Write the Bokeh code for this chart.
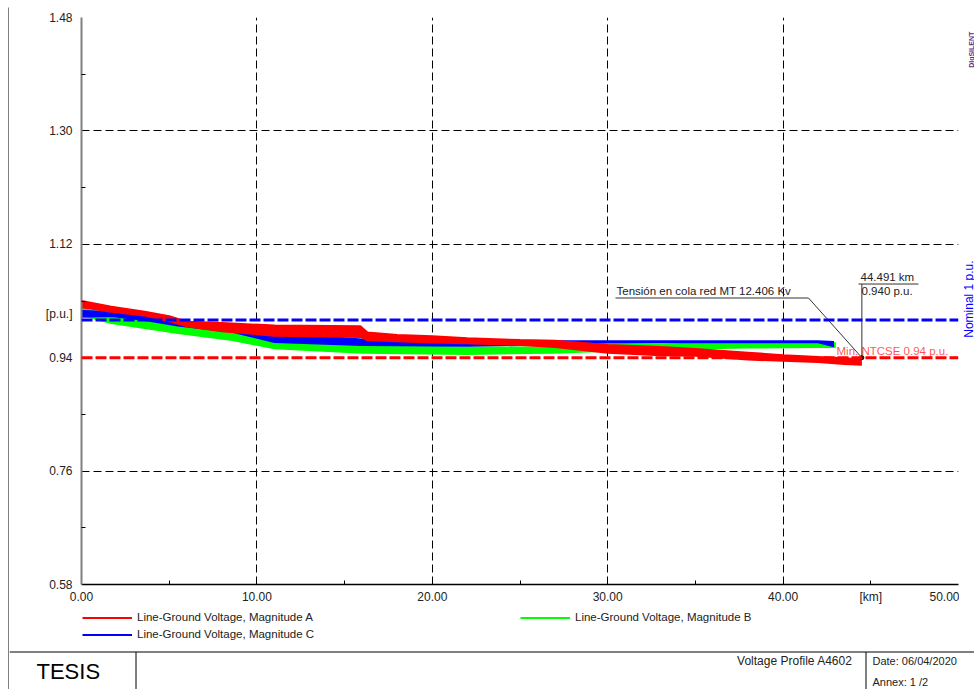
import math
from bokeh.plotting import figure
from bokeh.layouts import row, column
from bokeh.models import (Range1d, FixedTicker, NumeralTickFormatter, Span, Label,
                          Legend, LegendItem)
from bokeh.core.properties import value
from bokeh.embed import file_html
from bokeh.resources import INLINE

# ---------------- data ----------------
# Phase A (red) band envelope along the feeder
A_KM = [0, 1.7, 3.6, 5.0, 6.0, 8.0, 11.0, 15.9, 16.3, 18.0, 20.0, 22.0, 25.0, 27.0,
        30.0, 33.0, 35.0, 38.0, 40.0, 42.0, 43.5, 44.49]
A_UPPER = [1.030, 1.021, 1.013, 1.006, 0.997, 0.995, 0.991, 0.990, 0.980, 0.976, 0.974,
           0.971, 0.968, 0.967, 0.960, 0.957, 0.954, 0.948, 0.944, 0.941, 0.939, 0.937]
A_LOWER = [1.020, 1.013, 1.007, 0.998, 0.990, 0.982, 0.975, 0.973, 0.968, 0.966, 0.964,
           0.963, 0.960, 0.957, 0.948, 0.944, 0.943, 0.937, 0.935, 0.933, 0.930, 0.929]

# Phase B (green)
B_KM = [0, 1.7, 3.6, 5.5, 8.6, 11.0, 16.0, 22.0, 27.0, 30.0, 33.0, 38.0, 42.0, 43.0]
B_UPPER = [1.019, 1.004, 0.997, 0.989, 0.978, 0.965, 0.959, 0.956, 0.956, 0.962,
           0.961, 0.964, 0.964, 0.963]
B_LOWER = [1.008, 0.995, 0.987, 0.979, 0.968, 0.955, 0.948, 0.946, 0.948, 0.951,
           0.954, 0.956, 0.957, 0.957]

# Phase C (blue)
C_KM = [0, 1.7, 3.6, 5.5, 8.6, 11.0, 16.0, 22.0, 27.0, 30.0, 33.0, 38.0, 42.0, 42.9]
C_UPPER = [1.014, 1.013, 1.007, 0.997, 0.989, 0.979, 0.969, 0.968, 0.966, 0.966,
           0.966, 0.966, 0.966, 0.965]
C_LOWER = [1.005, 1.006, 1.000, 0.991, 0.981, 0.965, 0.960, 0.959, 0.961, 0.9645,
           0.9645, 0.9645, 0.9645, 0.958]

SERIES_NAMES = ["Line-Ground Voltage, Magnitude A",
                "Line-Ground Voltage, Magnitude B",
                "Line-Ground Voltage, Magnitude C"]

NOMINAL_PU = 1.0
MIN_NTCSE_PU = 0.94
ANNOT_KM = 44.491
ANNOT_PU = 0.940

X_MIN, X_MAX = 0, 50
Y_MIN, Y_MAX = 0.58, 1.48
X_TICKS = [0, 10, 20, 30, 40, 45, 50]
X_MINOR = [5, 15, 25, 35, 45]
X_GRID = [10, 20, 30, 40, 50]
Y_TICKS = [0.58, 0.76, 0.94, 1.01, 1.12, 1.30, 1.48]
Y_MINOR = [0.67, 0.85, 1.03, 1.21, 1.39]
Y_GRID = [0.76, 1.12, 1.30, 1.48]
X_OVERRIDES = {45: "[km]"}
Y_OVERRIDES = {1.01: "[p.u.]"}

ANNOT_TEXT = "Tensión en cola red MT 12.406 Kv"
MIN_TEXT = "Min. NTCSE 0.94  p.u."
NOMINAL_TEXT = "Nominal 1 p.u."
TITLE_LEFT = "TESIS"
TITLE_MAIN = "Voltage Profile A4602"
TITLE_DATE = "Date: 06/04/2020"
TITLE_ANNEX = "Annex: 1 /2"
LOGO_TEXT = "DIgSILENT"

RED, GREEN, BLUE = "#ff0000", "#00ff00", "#0000ff"
FONT = "Liberation Sans"
TXT = "#222222"

# ---------------- page geometry (pixels) ----------------
PAGE_W, PAGE_H = 974, 689
LEFT_W = 9          # strip holding the outer left frame line
TOP_H = 8           # strip holding the outer top frame line
RIGHT_W = 15        # strip right of the chart (rotated texts)
BOTTOM_Y = 606      # page y where the legend / title-block strip starts
PAGE_L, PAGE_R, PAGE_T, PAGE_B = 81, 958, 17, 585   # chart frame on the page

MAIN_W = PAGE_W - LEFT_W - RIGHT_W
MAIN_H = BOTTOM_Y - TOP_H


def dx(px):
    return X_MIN + (px - PAGE_L) * (X_MAX - X_MIN) / (PAGE_R - PAGE_L)


def dy(py):
    return Y_MAX - (py - PAGE_T) * (Y_MAX - Y_MIN) / (PAGE_B - PAGE_T)


# ---------------- main chart ----------------
p = figure(width=MAIN_W, height=MAIN_H, x_range=Range1d(X_MIN, X_MAX),
           y_range=Range1d(Y_MIN, Y_MAX), output_backend="svg", toolbar_location=None,
           min_border_left=PAGE_L - LEFT_W, min_border_right=LEFT_W + MAIN_W - PAGE_R,
           min_border_top=PAGE_T - TOP_H, min_border_bottom=BOTTOM_Y - PAGE_B)
p.outline_line_color = None
p.background_fill_color = "white"
p.border_fill_color = "white"

for ax in (p.xaxis, p.yaxis):
    ax.major_tick_in = 0
    ax.major_tick_out = 0
    ax.minor_tick_in = 4
    ax.minor_tick_out = 0
    ax.minor_tick_line_color = "black"
    ax.major_label_text_font = FONT
    ax.major_label_text_font_size = "12px"
    ax.major_label_text_color = TXT
    ax.formatter = NumeralTickFormatter(format="0.00")

p.xaxis.ticker = FixedTicker(ticks=X_TICKS, minor_ticks=X_MINOR)
p.xaxis.major_label_overrides = X_OVERRIDES
p.xaxis.axis_line_color = "black"
p.xaxis.axis_line_width = 1.5
p.xaxis.major_label_standoff = 5

p.yaxis.ticker = FixedTicker(ticks=Y_TICKS, minor_ticks=Y_MINOR)
p.yaxis.major_label_overrides = Y_OVERRIDES
p.yaxis.axis_line_color = "#808080"
p.yaxis.axis_line_width = 2
p.yaxis.major_label_standoff = 9

p.xgrid.ticker = FixedTicker(ticks=X_GRID)
p.ygrid.ticker = FixedTicker(ticks=Y_GRID)
for g in (p.xgrid, p.ygrid):
    g.grid_line_color = "black"
    g.grid_line_width = 1
    g.grid_line_dash = "8 4"


def band(km, up, lo, color):
    p.varea(x=km, y1=lo, y2=up, fill_color=color)
    p.line(km, up, line_color=color, line_width=2)
    p.line(km, lo, line_color=color, line_width=2)


band(B_KM, B_UPPER, B_LOWER, GREEN)
band(C_KM, C_UPPER, C_LOWER, BLUE)
band(A_KM, A_UPPER, A_LOWER, RED)

p.add_layout(Span(location=NOMINAL_PU, dimension="width", line_color=BLUE,
                  line_width=3, line_dash="11 3"))
p.add_layout(Span(location=MIN_NTCSE_PU, dimension="width", line_color=RED,
                  line_width=3, line_dash="11 3"))

LINE_C = "#333333"
p.segment(x0=[dx(615), dx(808), ANNOT_KM, dx(858)],
          y0=[dy(298), dy(298), ANNOT_PU, dy(284)],
          x1=[dx(808), ANNOT_KM, ANNOT_KM, dx(918)],
          y1=[dy(298), ANNOT_PU, dy(284), dy(284)],
          line_color=LINE_C, line_width=1)
p.scatter([ANNOT_KM], [ANNOT_PU], size=4, color="black")


def label(px, py, text, size="11.5px", color=TXT, alpha=1.0):
    p.add_layout(Label(x=dx(px), y=dy(py), text=text, text_font=FONT,
                       text_font_size=size, text_color=color, text_alpha=alpha,
                       text_align="left", text_baseline="middle"))


label(616, 291, ANNOT_TEXT)
label(860, 277, f"{ANNOT_KM:.3f} km")
label(861, 291, f"{ANNOT_PU:.3f} p.u.")
label(836, 351, MIN_TEXT, color=RED, alpha=0.7)


# ---------------- decorative strips (page-pixel coordinates) ----------------
def strip(x0, x1, y0, y1):
    s = figure(width=x1 - x0, height=y1 - y0, x_range=Range1d(x0, x1),
               y_range=Range1d(y1, y0), output_backend="svg", toolbar_location=None,
               x_axis_type=None, y_axis_type=None, min_border=0,
               min_border_left=0, min_border_right=0, min_border_top=0,
               min_border_bottom=0)
    s.outline_line_color = None
    s.xgrid.visible = False
    s.ygrid.visible = False
    s.background_fill_color = "white"
    s.border_fill_color = "white"
    return s


def strip_text(s, xs, ys, texts, size, color=TXT, align="left", angle=0.0,
               style="normal"):
    s.text(x=xs, y=ys, text=texts, text_font=value(FONT), text_font_size=value(size),
           text_color=color, text_align=align, text_baseline="middle", angle=angle,
           text_font_style=style)


left_strip = strip(0, LEFT_W, 0, PAGE_H)
left_strip.segment(x0=[8.5], y0=[7], x1=[8.5], y1=[PAGE_H], line_color="black",
                   line_width=1)

top_strip = strip(LEFT_W, PAGE_W, 0, TOP_H)
top_strip.segment(x0=[LEFT_W], y0=[7.5], x1=[PAGE_W], y1=[7.5], line_color="black",
                  line_width=1)

right_strip = strip(PAGE_W - RIGHT_W, PAGE_W, TOP_H, BOTTOM_Y)
strip_text(right_strip, [968], [305], [NOMINAL_TEXT], "12px", color=BLUE,
           align="center", angle=math.pi / 2)
strip_text(right_strip, [970.5], [42], [LOGO_TEXT], "7px", color="#5a2d82",
           align="center", angle=math.pi / 2, style="bold")

bottom_strip = strip(LEFT_W, PAGE_W, BOTTOM_Y, PAGE_H)
bottom_strip.segment(x0=[LEFT_W, 135.5, 865.5], y0=[651.5, 651.5, 651.5],
                     x1=[PAGE_W, 135.5, 865.5], y1=[651.5, PAGE_H, PAGE_H],
                     line_color="black", line_width=1)
strip_text(bottom_strip, [36], [671], [TITLE_LEFT], "22px", color="black")
strip_text(bottom_strip, [852], [660], [TITLE_MAIN], "12px", align="right")
strip_text(bottom_strip, [872, 872], [660, 681], [TITLE_DATE, TITLE_ANNEX], "11px")

# legend (drawn in the strip below the chart, same colours as the bands);
# the proxy renderers sit outside the strip's visible range
OFFCANVAS_X = [PAGE_W + 50, PAGE_W + 60]
OFFCANVAS_Y = [PAGE_H + 50, PAGE_H + 50]
leg_r = [bottom_strip.line(x=OFFCANVAS_X, y=OFFCANVAS_Y, line_color=c, line_width=2)
         for c in (RED, GREEN, BLUE)]
legend = Legend(items=[LegendItem(label=n, renderers=[r])
                       for n, r in zip(SERIES_NAMES, leg_r)],
                location=(PAGE_L + 1 - LEFT_W, PAGE_H - 642.5),
                orientation="horizontal", ncols=2,
                padding=0, margin=0, spacing=0, glyph_width=50, glyph_height=17,
                label_height=17, label_standoff=5, label_width=383,
                label_text_font=FONT, label_text_font_size="11.5px",
                label_text_color=TXT, background_fill_alpha=0, border_line_color=None)
bottom_strip.add_layout(legend)

layout = row(left_strip, column(top_strip, row(p, right_strip), bottom_strip))

open("out.html", "w").write(file_html(layout, INLINE))
